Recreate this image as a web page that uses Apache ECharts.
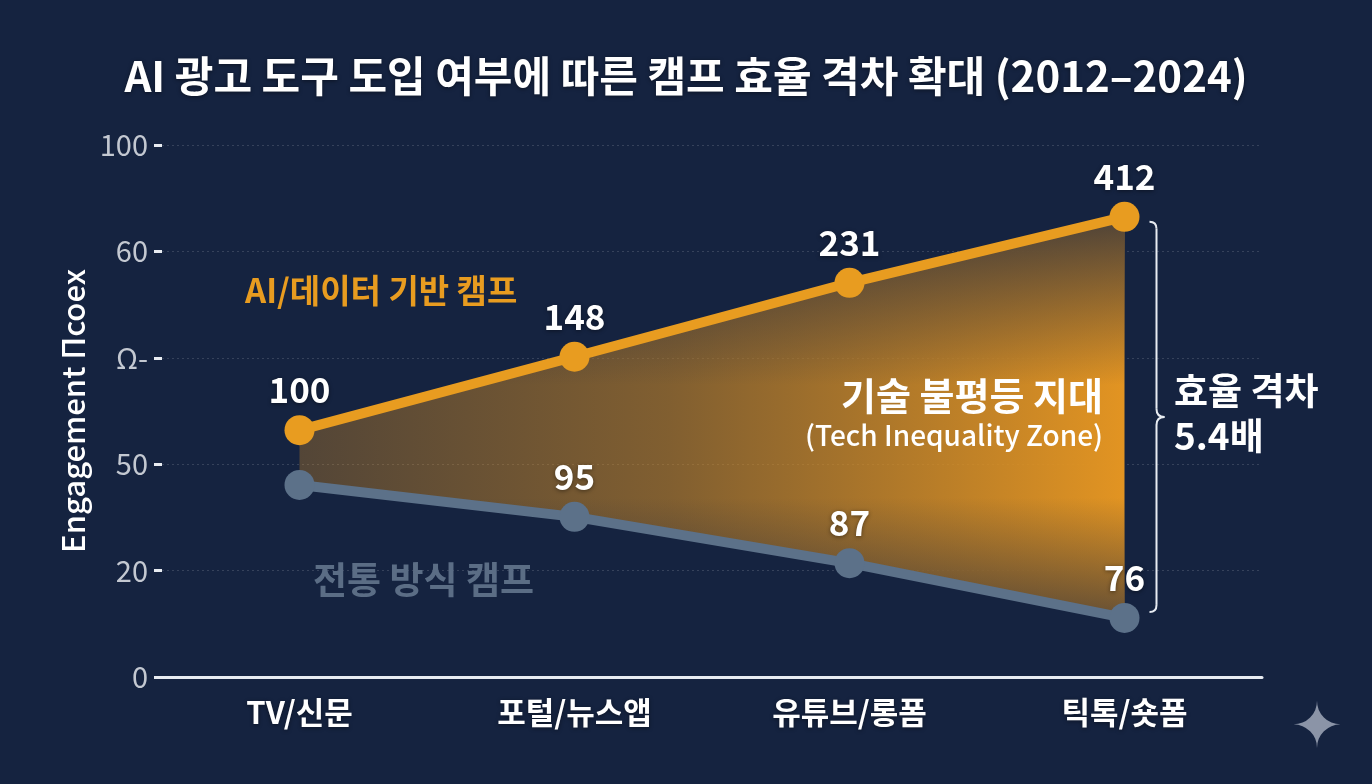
<!DOCTYPE html>
<html>
<head>
<meta charset="utf-8">
<script src="https://cdn.jsdelivr.net/npm/echarts@6/dist/echarts.min.js"></script>
<style>
  html, body { margin: 0; padding: 0; background: #152340; }
  #chart { width: 1372px; height: 784px; }
</style>
</head>
<body>
<div id="chart"></div>
<script>
// categories (x axis)
const categories = ["TV/신문", "포털/뉴스앱", "유튜브/롱폼", "틱톡/숏폼"];

// where each point sits on the (odd) y scale of the picture, 0-100
const aiPos = [46.4, 60.2, 74.1, 86.5];
const tradPos = [36.1, 30.1, 21.4, 11.1];

// numbers printed next to the points
const aiLabels = ["100", "148", "231", "412"];
const tradLabels = ["", "95", "87", "76"];

// y tick labels as printed, one per tick (0, 20, 40, 60, 80, 100)
const yTickLabels = ["0", "20", "50", "Ω-", "60", "100"];

const FONT = "'Noto Sans CJK KR', 'Noto Sans', sans-serif";
const ORANGE = "#e89c20";
const SLATE = "#5c7189";
const BG = "#152340";

const gapValues = aiPos.map((v, i) => v - tradPos[i]);

const chart = echarts.init(document.getElementById("chart"));

const shadow = { textShadowColor: "rgba(0,0,0,0.45)", textShadowBlur: 4, textShadowOffsetY: 1 };
const gShadow = { shadowColor: "rgba(0,0,0,0.45)", shadowBlur: 4, shadowOffsetY: 1 };

const option = {
  backgroundColor: BG,
  animation: false,
  title: {
    text: "AI 광고 도구 도입 여부에 따른 캠프 효율 격차 확대 (2012–2024)",
    left: "center",
    top: 50,
    textStyle: { color: "#ffffff", fontSize: 42, fontWeight: "bold", fontFamily: FONT, ...shadow }
  },
  grid: { left: 162, right: 110, top: 145, bottom: 107 },
  xAxis: {
    type: "category",
    data: categories,
    boundaryGap: true,
    axisLine: { lineStyle: { color: "#e8ecf2", width: 3 } },
    axisTick: { show: false },
    axisLabel: { color: "#ffffff", fontSize: 31, fontWeight: "bold", fontFamily: FONT, margin: 20, ...shadow },
    splitLine: { show: false }
  },
  yAxis: {
    type: "value",
    min: 0,
    max: 100,
    interval: 20,
    name: "Engagement Πcoex",
    nameLocation: "middle",
    nameGap: 67,
    nameRotate: 90,
    nameTextStyle: { color: "#ffffff", fontSize: 31, fontWeight: 500, fontFamily: FONT },
    axisLine: { show: false },
    axisTick: { show: true, length: 8, inside: false, lineStyle: { color: "#e8ecf2", width: 3 } },
    axisLabel: {
      color: "#c3c8d1",
      fontSize: 29,
      fontFamily: FONT,
      margin: 14,
      formatter: v => yTickLabels[Math.round(v / 20)]
    },
    splitLine: { lineStyle: { color: "rgba(255,255,255,0.14)", type: [2, 3], width: 1 } }
  },
  series: [
    // zone between the two lines: base + difference, stacked
    {
      name: "base", type: "line", stack: "zone", data: tradPos,
      symbol: "none", lineStyle: { opacity: 0 }, silent: true, z: 1
    },
    {
      name: "zone", type: "line", stack: "zone", data: gapValues,
      symbol: "none", lineStyle: { opacity: 0 }, silent: true, z: 1,
      areaStyle: {
        opacity: 1,
        color: new echarts.graphic.LinearGradient(0, 0, 1, 0, [
          { offset: 0, color: "rgba(214,142,36,0.32)" },
          { offset: 0.45, color: "rgba(214,142,36,0.56)" },
          { offset: 1, color: "rgba(226,148,34,1)" }
        ])
      }
    },
    // darker shading near top and bottom edges of the zone
    {
      name: "base2", type: "line", stack: "shade", data: tradPos,
      symbol: "none", lineStyle: { opacity: 0 }, silent: true, z: 2
    },
    {
      name: "shade", type: "line", stack: "shade", data: gapValues,
      symbol: "none", lineStyle: { opacity: 0 }, silent: true, z: 2,
      areaStyle: {
        opacity: 1,
        color: new echarts.graphic.LinearGradient(0, 0, 0, 1, [
          { offset: 0, color: "rgba(21,35,64,0.72)" },
          { offset: 0.42, color: "rgba(21,35,64,0)" },
          { offset: 0.7, color: "rgba(21,35,64,0)" },
          { offset: 1, color: "rgba(21,35,64,0.6)" }
        ])
      }
    },
    {
      name: "전통 방식 캠프", type: "line", data: tradPos, z: 5,
      symbol: "circle", symbolSize: 30,
      lineStyle: { color: SLATE, width: 10 },
      itemStyle: { color: SLATE },
      label: {
        show: true, position: "top", distance: 8,
        formatter: p => tradLabels[p.dataIndex],
        color: "#ffffff", fontSize: 35, fontWeight: "bold", fontFamily: FONT, ...shadow
      }
    },
    {
      name: "AI/데이터 기반 캠프", type: "line", data: aiPos, z: 6,
      symbol: "circle", symbolSize: 30,
      lineStyle: { color: ORANGE, width: 10 },
      itemStyle: { color: ORANGE },
      label: {
        show: true, position: "top", distance: 8,
        formatter: p => aiLabels[p.dataIndex],
        color: "#ffffff", fontSize: 35, fontWeight: "bold", fontFamily: FONT, ...shadow
      }
    }
  ],
  graphic: [
    {
      type: "text", left: 245, top: 274, z: 10,
      style: { text: "AI/데이터 기반 캠프", fill: ORANGE, font: "bold 33px " + FONT, ...gShadow }
    },
    {
      type: "text", left: 313, top: 561, z: 10,
      style: { text: "전통 방식 캠프", fill: "#5b6d85", font: "bold 37px " + FONT, ...gShadow }
    },
    {
      type: "text", right: 1372 - 1103, top: 377, z: 10,
      style: { text: "기술 불평등 지대", fill: "#ffffff", font: "bold 38px " + FONT, textAlign: "right", ...gShadow }
    },
    {
      type: "text", right: 1372 - 1103, top: 421, z: 10,
      style: { text: "(Tech Inequality Zone)", fill: "#ffffff", font: "500 28px " + FONT, textAlign: "right", ...gShadow }
    },
    {
      type: "text", left: 1174, top: 368, z: 10,
      style: { text: "효율 격차\n5.4배", fill: "#ffffff", font: "bold 37px " + FONT, lineHeight: 45, ...gShadow }
    },
    {
      type: "text", left: 1291, top: 700, z: 10,
      style: { text: "✦", fill: "#8b94a7", font: "62px 'DejaVu Sans'" }
    }
  ]
};

chart.setOption(option);

// brace to the right of the last pair of points, placed from the axes
const last = categories.length - 1;
const topPt = chart.convertToPixel({ gridIndex: 0 }, [last, aiPos[last]]);
const botPt = chart.convertToPixel({ gridIndex: 0 }, [last, tradPos[last]]);
const bx = topPt[0] + 32;
const y1 = topPt[1] + 5;
const y2 = botPt[1] - 6;
const ym = (y1 + y2) / 2;
const braceStyle = { stroke: "#e8ecf2", lineWidth: 2, fill: "none" };
const curve = (x1, yA, x2, yB, cx, cy) => ({
  type: "bezierCurve", z: 10,
  shape: { x1: x1, y1: yA, x2: x2, y2: yB, cpx1: cx, cpy1: cy },
  style: braceStyle
});
const seg = (yA, yB) => ({
  type: "line", z: 10,
  shape: { x1: bx, y1: yA, x2: bx, y2: yB },
  style: braceStyle
});

chart.setOption({
  graphic: option.graphic.concat([
    curve(bx - 7, y1, bx, y1 + 7, bx, y1),
    seg(y1 + 7, ym - 8),
    curve(bx, ym - 8, bx + 8, ym, bx, ym),
    curve(bx + 8, ym, bx, ym + 8, bx, ym),
    seg(ym + 8, y2 - 7),
    curve(bx, y2 - 7, bx - 7, y2, bx, y2)
  ])
});
</script>
</body>
</html>
